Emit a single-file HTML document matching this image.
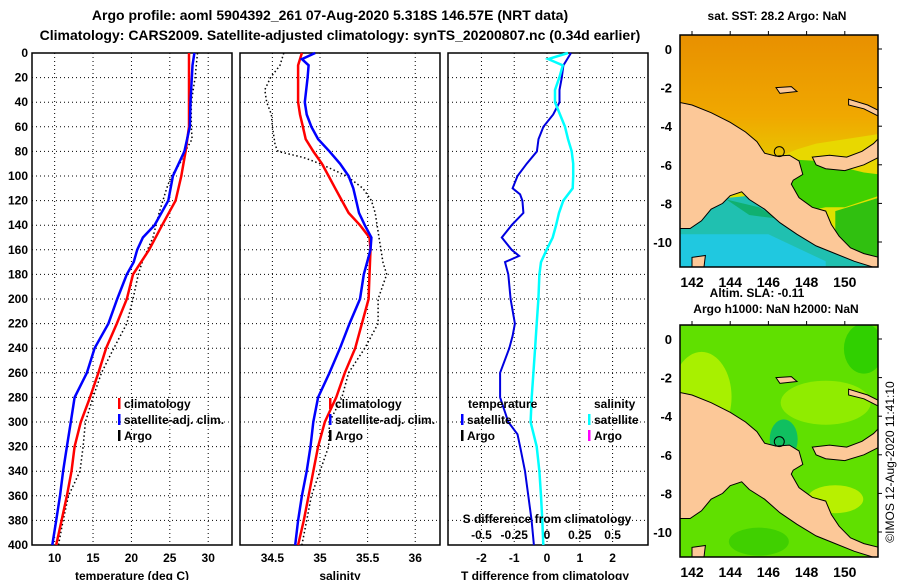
<!DOCTYPE html>
<html><head><meta charset="utf-8"><style>
body{margin:0;background:#fff;}
svg{display:block;font-family:"Liberation Sans",sans-serif;font-weight:bold;}
</style></head><body>
<svg id="c" width="900" height="580" viewBox="0 0 900 580">
<text x="330" y="20" text-anchor="middle" font-size="14">Argo profile: aoml 5904392_261 07-Aug-2020 5.318S 146.57E (NRT data)</text>
<text x="340" y="40" text-anchor="middle" font-size="14">Climatology: CARS2009. Satellite-adjusted climatology: synTS_20200807.nc (0.34d earlier)</text>
</svg>
<script>
const depthsTop=[0,10,20,40,60,80,100,120,140,160,180];
const tempClim=[27.5,27.5,27.5,27.5,27.5,27.05,26.5,25.75,24.0,22.3,20.2];
const depthsT=[0,10,40,60,80,100,120,140,150,160,170,180,200,220,240,260,280,300,320,340,360,380,400];
const tempSat=[28.2,27.95,27.7,27.6,26.9,25.4,24.8,23.0,21.5,20.75,20.3,19.4,18.15,17.0,15.2,14.2,12.6,12.1,11.6,11.1,10.7,10.2,9.7];
const depthsArgoT=[0,20,40,60,70,80,90,100,110,120,130,140,150,160,170,180,200,220,240,260,280,300,320,340,360,380,400];
const tempArgo=[28.6,28.3,27.8,27.8,27.9,27.0,26.3,25.2,24.6,24.1,23.6,23.2,22.8,22.1,21.4,20.9,20.2,19.4,17.7,16.1,15.0,14.0,13.7,13.3,11.8,11.1,10.5];
const depthsLow=[200,220,240,260,280,300,320,340,360,380,400];
const tempClimLow=[19.4,18.1,16.7,15.7,14.6,13.4,12.6,12.2,11.6,10.9,10.2];
const depthsS=[0,5,10,20,40,50,60,70,80,90,100,110,120,130,140,150,160,180,200,220,240,260,280,300,320,340,360,380,400];
const salClim=[34.81,34.79,34.77,34.77,34.77,34.79,34.82,34.85,34.93,35.02,35.09,35.16,35.23,35.30,35.42,35.52,35.53,35.52,35.51,35.44,35.37,35.26,35.17,35.05,34.98,34.93,34.88,34.83,34.77];
const salSat=[34.95,34.81,34.88,34.87,34.84,34.86,34.91,34.98,35.10,35.21,35.30,35.35,35.38,35.41,35.47,35.54,35.53,35.46,35.42,35.31,35.21,35.10,34.98,34.93,34.90,34.86,34.81,34.77,34.74];
const depthsArgoS=[0,10,20,30,40,50,60,75,80,85,90,100,110,120,130,150,160,170,180,200,220,240,260,280,300,320,340,360,380,400];
const salArgo=[34.62,34.58,34.48,34.42,34.44,34.49,34.50,34.53,34.56,34.83,35.0,35.28,35.45,35.54,35.58,35.62,35.64,35.66,35.70,35.61,35.61,35.47,35.30,35.23,35.10,35.09,35.0,34.91,34.86,34.81];
const depthsD=[0,10,20,30,40,50,60,70,80,90,100,110,115,120,130,140,150,160,165,170,180,200,220,230,240,260,280,300,310,320,340,360,380,400];
const tDiff=[0.73,0.50,0.45,0.38,0.38,0.19,-0.11,-0.26,-0.31,-0.62,-0.9,-1.05,-0.82,-0.75,-0.72,-1.08,-1.38,-1.08,-0.85,-1.28,-1.18,-1.11,-0.98,-1.05,-1.15,-1.43,-1.43,-1.18,-0.9,-0.82,-0.67,-0.57,-0.47,-0.4];
const depthsSD=[0,5,10,20,30,40,50,60,70,80,90,100,110,120,130,140,150,160,170,180,200,220,240,260,280,300,320,340,360,380,400];
const sDiff=[0.16,0.01,0.12,0.094,0.061,0.061,0.099,0.137,0.16,0.188,0.20,0.20,0.196,0.124,0.091,0.069,0.043,-0.003,-0.046,-0.058,-0.066,-0.079,-0.091,-0.104,-0.117,-0.125,-0.079,-0.058,-0.046,-0.036,-0.028];
const depthTicks=[0,20,40,60,80,100,120,140,160,180,200,220,240,260,280,300,320,340,360,380,400];
const tTicks=[10,15,20,25,30];
const sTicks=[34.5,35,35.5,36];
const dTicks=[-2,-1,0,1,2];
const sdTicks=[-0.5,-0.25,0,0.25,0.5];
const latTicks=[0,-2,-4,-6,-8,-10];
const lonTicks=[142,144,146,148,150];

const NS='http://www.w3.org/2000/svg';
const svg=document.getElementById('c');
function el(tag,attrs,parent){const e=document.createElementNS(NS,tag);for(const k in attrs)e.setAttribute(k,attrs[k]);(parent||svg).appendChild(e);return e;}
function txt(x,y,s,anchor,size,parent){const t=el('text',{x:x,y:y,'text-anchor':anchor||'middle','font-size':size||12},parent);t.textContent=s;return t;}

const TOP=53,BOT=545;
const yD=d=>TOP+(d/400)*(BOT-TOP);
function makePanel(name,x0,x1,vmin,vmax,vt,vtLabels){
  const g=el('g',{});
  
  
  const xs=v=>x0+(v-vmin)/(vmax-vmin)*(x1-x0);
  depthTicks.forEach(d=>{if(d>0&&d<400)el('line',{x1:x0,x2:x1,y1:yD(d),y2:yD(d),stroke:'#000','stroke-width':1,'stroke-dasharray':'1,3'},g);});
  vt.forEach(v=>{el('line',{x1:xs(v),x2:xs(v),y1:TOP,y2:BOT,stroke:'#000','stroke-width':1,'stroke-dasharray':'1,3'},g);});
  el('rect',{x:x0,y:TOP,width:x1-x0,height:BOT-TOP,fill:'none',stroke:'#000','stroke-width':1.5},g);
  vt.forEach((v,i)=>{const t=txt(xs(v),562,vtLabels[i],'middle',12,g);});
  return {g,xs};
}
function series(p,ds,vs,color,w,dash,name){
  const pts=ds.map((d,i)=>p.xs(vs[i]).toFixed(1)+','+yD(d).toFixed(1)).join(' ');
  const l=el('polyline',{points:pts,fill:'none',stroke:color,'stroke-width':w},p.g);
  if(dash)l.setAttribute('stroke-dasharray',dash);
  
  
}
depthTicks.forEach(d=>{const t=txt(28,yD(d)+4,String(d),'end',12);});

const p1=makePanel('temperature-panel',32,232,7.05,33.1,tTicks,tTicks.map(String));
series(p1,depthsArgoT,tempArgo,'#000',1.5,'1.5,2.5','argo-temperature-line');
series(p1,depthsTop.concat(depthsLow),tempClim.concat(tempClimLow),'#f00',2.5,null,'climatology-temperature-line');
series(p1,depthsT,tempSat,'#00f',2.5,null,'satellite-temperature-line');
{const t=txt(132,580,'temperature (deg C)','middle',12);}

const p2=makePanel('salinity-panel',240,440,34.16,36.26,sTicks,['34.5','35','35.5','36']);
series(p2,depthsArgoS,salArgo,'#000',1.5,'1.5,2.5','argo-salinity-line');
series(p2,depthsS,salClim,'#f00',2.5,null,'climatology-salinity-line');
series(p2,depthsS,salSat,'#00f',2.5,null,'satellite-salinity-line');
{const t=txt(340,580,'salinity','middle',12);}

const p3=makePanel('difference-panel',448,648,-3.02,3.08,dTicks,['-2','-1','0','1','2']);
series(p3,depthsD,tDiff,'#0000e0',2,null,'temperature-difference-line');
series(p3,depthsSD,sDiff.map(v=>v*4),'#00ffff',2.5,null,'salinity-difference-line');
{const t=txt(545,580,'T difference from climatology','middle',12);}
{const t=txt(547,523,'S difference from climatology','middle',12);}
sdTicks.forEach(v=>{const t=txt(p3.xs(v*4),539,String(v),'middle',12);});

function legItem(x,y,color,label,name){
  const g=el('g',{});
  el('rect',{x:x,y:y-10,width:2.5,height:11,fill:color},g);
  txt(x+6,y,label,'start',12,g);
}
legItem(118,408,'#f00','climatology','legend-climatology');
legItem(118,424,'#00f','satellite-adj. clim.','legend-satellite-adj');
legItem(118,440,'#000','Argo','legend-argo');
legItem(329,408,'#f00','climatology','legend-sal-climatology');
legItem(329,424,'#00f','satellite-adj. clim.','legend-sal-satellite-adj');
legItem(329,440,'#000','Argo','legend-sal-argo');
{const t=txt(468,408,'temperature','start',12);}
{const t=txt(594,408,'salinity','start',12);}
legItem(461,424,'#00f','satellite','legend-temp-satellite');
legItem(461,440,'#000','Argo','legend-temp-argo');
legItem(588,424,'#0ff','satellite','legend-sal-satellite');
legItem(588,440,'#f0f','Argo','legend-sal-argo-diff');

const MX0=680,MX1=878;
const lx=lon=>692+(lon-142)*19.1;
function makeMap(name,y0,y1,lat0y,kind){
  const g=el('g',{});
  const ly=lat=>lat0y+(-lat)*19.3;
  const cid='clip'+kind;
  const cp=el('clipPath',{id:cid},g);el('rect',{x:MX0,y:y0,width:MX1-MX0,height:y1-y0},cp);
  const f=el('g',{'clip-path':'url(#'+cid+')'},g);
  const P=a=>a.map(p=>lx(p[0]).toFixed(1)+','+ly(p[1]).toFixed(1)).join(' ');
  if(kind==='sst'){
    const gr=el('linearGradient',{id:'gs',x1:0,y1:0,x2:0,y2:1},g);
    el('stop',{offset:0,'stop-color':'#e89000'},gr);el('stop',{offset:0.35,'stop-color':'#f0a800'},gr);el('stop',{offset:0.7,'stop-color':'#e0e000'},gr);el('stop',{offset:1,'stop-color':'#d8e800'},gr);
    el('rect',{x:MX0,y:y0,width:198,height:y1-y0,fill:'url(#gs)'},f);
    el('polygon',{points:P([[148.5,-4.9],[151.8,-4.4],[151.8,-7.0],[150.5,-7.4],[149,-7.8],[147,-7.5],[146.5,-5.6],[147.5,-5.2]]),fill:'#e8d800'},f);
    el('polygon',{points:P([[146.8,-5.7],[148.5,-5.8],[151,-6.4],[151.8,-6.5],[151.8,-7.6],[150,-8.2],[149,-8.2],[148,-8.4],[147,-7.4]]),fill:'#40d000'},f);
    el('polygon',{points:P([[149.5,-8.4],[151.8,-7.7],[151.8,-11.5],[149.5,-11.5]]),fill:'#30c010'},f);
    el('polygon',{points:P([[141,-8.0],[145,-7.6],[147.5,-9.2],[150,-10.5],[151.8,-10.8],[151.8,-12],[141,-12]]),fill:'#20c0b0'},f);
    el('polygon',{points:P([[141,-9.6],[146,-9.6],[149,-11],[149,-12],[141,-12]]),fill:'#20c8e0'},f);
    el('polygon',{points:P([[143.8,-7.8],[145.5,-8.2],[146.5,-8.8],[145,-8.6]]),fill:'#10b070'},f);
  } else {
    el('rect',{x:MX0,y:y0,width:198,height:y1-y0,fill:'#60e000'},f);
    el('ellipse',{cx:lx(142.5),cy:ly(-3),rx:30,ry:45,fill:'#a8f000'},f);
    el('ellipse',{cx:lx(149),cy:ly(-3.3),rx:45,ry:22,fill:'#90ec00'},f);
    el('ellipse',{cx:lx(149.5),cy:ly(-8.3),rx:28,ry:14,fill:'#b8f000'},f);
    el('ellipse',{cx:lx(146.8),cy:ly(-5.2),rx:14,ry:20,fill:'#10c060'},f);
    el('ellipse',{cx:lx(151),cy:ly(-0.5),rx:20,ry:25,fill:'#30d000'},f);
    el('ellipse',{cx:lx(145.5),cy:ly(-10.5),rx:30,ry:14,fill:'#40d000'},f);
  }
  el('polygon',{points:P([[141,-2.7],[142,-2.9],[143,-3.3],[144,-3.8],[144.8,-4.3],[145.4,-4.8],[145.8,-5.4],[146.4,-5.55],[147.1,-5.5],[147.6,-5.8],[147.8,-6.5],[147.3,-6.8],[147.2,-7.0],[147.6,-7.7],[148.3,-8.2],[149,-8.4],[149.3,-9.1],[149.7,-9.7],[150.3,-10.3],[151,-10.6],[151.8,-10.8],[151.8,-11.4],[150.5,-11.0],[149.5,-10.6],[148.5,-10.2],[147.5,-9.6],[146.6,-9.0],[145.8,-8.3],[145.0,-7.8],[144.6,-7.4],[144.0,-7.6],[143.6,-8.0],[143.0,-8.3],[142.5,-8.9],[141.9,-9.3],[141,-9.3]]),fill:'#fcc898',stroke:'#000','stroke-width':1},f);
  el('polygon',{points:P([[148.3,-5.6],[149.2,-5.5],[150.1,-5.6],[150.9,-5.3],[151.5,-4.9],[151.8,-4.6],[151.8,-5.6],[151,-6.0],[150,-6.3],[149,-6.2],[148.5,-6.0]]),fill:'#fcc898',stroke:'#000','stroke-width':1},f);
  el('polygon',{points:P([[146.4,-2.0],[147.2,-1.95],[147.5,-2.2],[146.6,-2.3]]),fill:'#fcc898',stroke:'#000','stroke-width':1},f);
  el('polygon',{points:P([[150.2,-2.6],[151.2,-2.9],[151.8,-3.2],[151.8,-3.5],[151,-3.1],[150.2,-2.9]]),fill:'#fcc898',stroke:'#000','stroke-width':1},f);
  el('polygon',{points:P([[142,-10.8],[142.7,-10.7],[142.6,-11.5],[142,-11.5]]),fill:'#fcc898',stroke:'#000','stroke-width':1},f);
  const c=el('circle',{cx:lx(146.57),cy:ly(-5.318),r:5,fill:'none',stroke:'#000','stroke-width':1},f);
  
  el('rect',{x:MX0,y:y0,width:MX1-MX0,height:y1-y0,fill:'none',stroke:'#000','stroke-width':1.5},g);
  latTicks.forEach(l=>{el('line',{x1:MX1,x2:MX1+4,y1:ly(l),y2:ly(l),stroke:'#000'},g);const t=txt(672,ly(l)+5,String(l),'end',13,g);});
  lonTicks.forEach(l=>{el('line',{x1:lx(l),x2:lx(l),y1:y0-4,y2:y0,stroke:'#000'},g);const t=txt(lx(l),y1+20,String(l),'middle',14,g);});
}
makeMap('sst-map',35,267,49,'sst');
makeMap('sla-map',325,557,339,'sla');
{const t=txt(777,20,'sat. SST: 28.2 Argo: NaN','middle',12);}
{const t=txt(757,297,'Altim. SLA: -0.11','middle',12);}
{const t=txt(776,313,'Argo h1000: NaN h2000: NaN','middle',12);}
{const t=txt(0,0,'©IMOS 12-Aug-2020 11:41:10','middle',12);t.setAttribute('transform','translate(894,462) rotate(-90)');t.setAttribute('font-weight','normal');}
</script>
</body></html>
